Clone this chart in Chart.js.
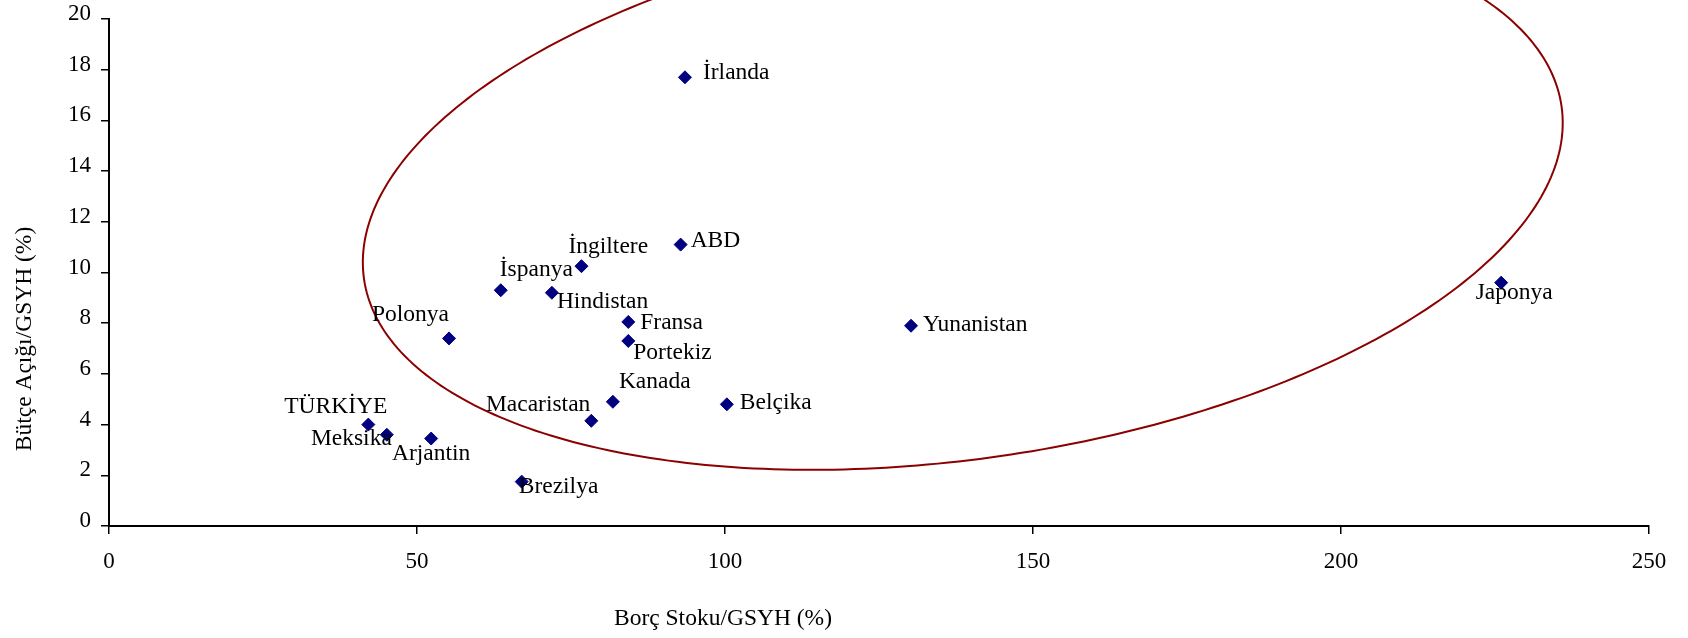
<!DOCTYPE html>
<html>
<head>
<meta charset="utf-8">
<script src="https://cdn.jsdelivr.net/npm/chart.js@4.4.1/dist/chart.umd.min.js"></script>
<style>
  html, body { margin: 0; padding: 0; background: #fff; }
  #wrap { width: 1688px; height: 638px; position: relative; }
</style>
</head>
<body>
<div id="wrap"><canvas id="myChart"></canvas></div>
<script>
const countries = ['İrlanda', 'ABD', 'İngiltere', 'İspanya', 'Hindistan', 'Fransa', 'Portekiz', 'Polonya',
  'Yunanistan', 'Japonya', 'Kanada', 'Belçika', 'Macaristan', 'TÜRKİYE', 'Meksika', 'Arjantin', 'Brezilya'];
const debtToGdp    = [93.5, 92.8, 76.7, 63.6, 71.9, 84.3, 84.3, 55.2, 130.2, 226.0, 81.8, 100.3, 78.3, 42.1, 45.1, 52.3, 67.0];
const deficitToGdp = [17.7, 11.1, 10.25, 9.3, 9.2, 8.05, 7.3, 7.4, 7.9, 9.6, 4.9, 4.8, 4.15, 4.0, 3.6, 3.45, 1.75];
const xTicks = [0, 50, 100, 150, 200, 250];
const yTicks = [0, 2, 4, 6, 8, 10, 12, 14, 16, 18, 20];

// highlight ring, in data units: centre and the two half-axis vectors
const ringCenter = [138.6, 13.15];
const ringAxisA = [97.2, 3.41];
const ringAxisB = [6.15, -10.39];

// label placement next to each point: [dx, dy, align]
const labelOffsets = [
  [18, -4, 'left'], [10, -4, 'left'], [-13, -19, 'left'], [-1, -20, 'left'], [5, 9, 'left'],
  [12, 1, 'left'], [5, 12, 'left'], [0, -24, 'right'], [12, -1, 'left'], [13, 10, 'center'],
  [6, -20, 'left'], [13, -1, 'left'], [-1, -16, 'right'], [19, -18, 'right'], [5, 4, 'right'],
  [0, 15, 'center'], [-3, 5, 'left']
];

const serif = 'Liberation Serif';

const overlay = {
  id: 'overlay',
  afterDatasetsDraw(chart) {
    const ctx = chart.ctx;
    const x = chart.scales.x, y = chart.scales.y;
    ctx.save();
    // ellipse
    ctx.beginPath();
    for (let i = 0; i <= 360; i++) {
      const t = i * Math.PI / 180;
      const vx = ringCenter[0] + ringAxisA[0] * Math.cos(t) + ringAxisB[0] * Math.sin(t);
      const vy = ringCenter[1] + ringAxisA[1] * Math.cos(t) + ringAxisB[1] * Math.sin(t);
      const px = x.getPixelForValue(vx), py = y.getPixelForValue(vy);
      if (i === 0) ctx.moveTo(px, py); else ctx.lineTo(px, py);
    }
    ctx.closePath();
    ctx.strokeStyle = '#8b0000';
    ctx.lineWidth = 2;
    ctx.stroke();

    // point labels
    ctx.fillStyle = '#000';
    ctx.font = '23.5px "' + serif + '"';
    ctx.textBaseline = 'middle';
    chart.getDatasetMeta(0).data.forEach((pt, i) => {
      const o = labelOffsets[i];
      ctx.textAlign = o[2];
      ctx.fillText(countries[i], pt.x + o[0], pt.y + o[1]);
    });

    // axis titles
    ctx.font = '23.5px "' + serif + '"';
    ctx.textAlign = 'center';
    ctx.fillText('Borç Stoku/GSYH (%)', 723, chart.height - 19);
    ctx.translate(25, 339);
    ctx.rotate(-Math.PI / 2);
    ctx.fillText('Bütçe Açığı/GSYH (%)', 0, 0);
    ctx.restore();
  }
};

const axisStyle = {
  grid: { display: true, drawOnChartArea: false, drawTicks: true, tickLength: 8, color: '#000', lineWidth: 1.5 },
  border: { display: true, color: '#000', width: 2 },
};

const ctx = document.getElementById('myChart');
const myChart = new Chart(ctx, {
  type: 'scatter',
  data: {
    datasets: [{
      data: debtToGdp.map((v, i) => ({ x: v, y: deficitToGdp[i] })),
      pointStyle: 'rectRot',
      pointRadius: 6.5,
      pointBorderWidth: 1,
      backgroundColor: '#000080',
      borderColor: '#000080'
    }]
  },
  options: {
    responsive: true,
    maintainAspectRatio: false,
    animation: false,
    layout: { padding: { left: 0, top: 19, right: 39, bottom: 0 } },
    plugins: { legend: { display: false }, tooltip: { enabled: false } },
    scales: {
      x: {
        type: 'linear', min: 0, max: 250,
        afterBuildTicks: s => { s.ticks = xTicks.map(v => ({ value: v })); },
        afterFit: s => { s.height = 112; },
        ticks: { color: '#000', font: { family: serif, size: 23 }, padding: 14, maxRotation: 0 },
        ...axisStyle
      },
      y: {
        type: 'linear', min: 0, max: 20,
        afterBuildTicks: s => { s.ticks = yTicks.map(v => ({ value: v })); },
        afterFit: s => { s.width = 109; s.paddingTop = 0; s.paddingBottom = 0; },
        ticks: { color: '#000', font: { family: serif, size: 23 }, padding: 10, labelOffset: -5 },
        ...axisStyle
      }
    }
  },
  plugins: [overlay]
});
</script>
</body>
</html>
